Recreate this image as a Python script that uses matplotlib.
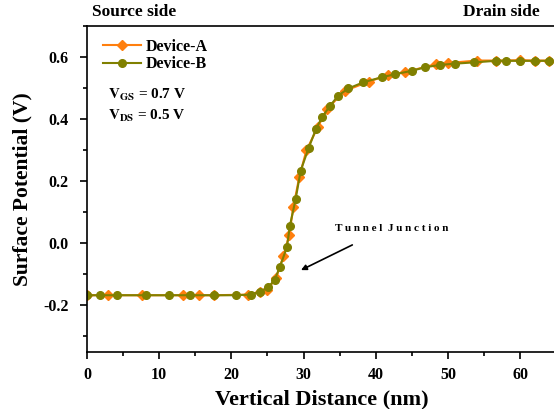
import matplotlib
matplotlib.use("Agg")
import matplotlib.pyplot as plt
from matplotlib.ticker import MultipleLocator

plt.rcParams['font.family'] = ['Liberation Serif', 'DejaVu Serif']
plt.rcParams['font.weight'] = 'bold'
plt.rcParams['mathtext.fontset'] = 'stix'

# Device-A (orange diamonds)
xa = [0, 2.9, 7.6, 13.3, 15.5, 17.6, 22.3, 24.0, 25.0, 26.2, 27.2, 28.0, 28.6,
      29.4, 30.4, 32.0, 33.3, 35.7, 39.0, 41.7, 44.0, 48.4, 50.0, 54.0, 56.6,
      60.0, 62.0, 64.0]
ya = [-0.168, -0.168, -0.168, -0.168, -0.168, -0.168, -0.166, -0.158, -0.150,
      -0.112, -0.043, 0.025, 0.117, 0.212, 0.299, 0.375, 0.433, 0.490, 0.520,
      0.541, 0.550, 0.577, 0.580, 0.588, 0.588, 0.589, 0.588, 0.588]

# Device-B (olive circles)
xb = [0, 1.8, 4.2, 8.2, 11.3, 14.3, 17.6, 20.6, 22.7, 24.0, 25.1, 26.0, 26.7,
      27.7, 28.1, 28.9, 29.6, 30.7, 31.7, 32.6, 33.7, 34.8, 36.2, 38.3, 40.8,
      42.7, 45.0, 46.8, 48.9, 51.0, 53.6, 56.6, 58.0, 60.0, 62.0, 64.0]
yb = [-0.168, -0.168, -0.168, -0.168, -0.168, -0.168, -0.168, -0.168, -0.166,
      -0.156, -0.143, -0.118, -0.078, -0.013, 0.055, 0.141, 0.233, 0.306,
      0.366, 0.407, 0.443, 0.475, 0.498, 0.518, 0.534, 0.544, 0.555, 0.566,
      0.574, 0.578, 0.582, 0.587, 0.587, 0.587, 0.587, 0.587]

fig = plt.figure(figsize=(5.54, 4.09), dpi=100)
ax = fig.add_axes([0.157, 0.140, 0.847, 0.797])

ax.plot(xa, ya, color='#ff7f0e', marker='D', markersize=5, linewidth=1.5,
        label='Device-A')
ax.plot(xb, yb, color='#808000', marker='o', markersize=5.5, linewidth=1.5,
        label='Device-B')

ax.set_xlim(0, 65)
ax.set_ylim(-0.35, 0.7)
ax.xaxis.set_major_locator(MultipleLocator(10))
ax.xaxis.set_minor_locator(MultipleLocator(5))
ax.yaxis.set_major_locator(MultipleLocator(0.2))
ax.yaxis.set_minor_locator(MultipleLocator(0.1))
ax.tick_params(which='both', direction='out', labelsize=11.5, width=1.2)
ax.tick_params(which='major', length=5)
ax.tick_params(which='minor', length=3)
ax.tick_params(axis='x', pad=6)
ax.tick_params(axis='y', pad=8)
ax.yaxis.set_major_formatter(plt.FuncFormatter(lambda v, p: f"{v:.1f}"))
ax.spines['right'].set_visible(False)
for s in ['left', 'bottom', 'top']:
    ax.spines[s].set_linewidth(1.2)

ax.set_xlabel('Vertical Distance (nm)', fontsize=16, fontweight='bold', labelpad=5)
ax.set_ylabel('Surface Potential (V)', fontsize=15.5, fontweight='bold', labelpad=8)

ax.legend(loc='upper left', frameon=False, fontsize=11.5, handlelength=2.4,
          borderaxespad=0.3, labelspacing=0.1, handletextpad=0.3,
          bbox_to_anchor=(0.01, 0.995))

ax.text(0.045, 0.775, r'$\mathbf{V}_{\mathbf{GS}}$ = 0.7 V', transform=ax.transAxes,
        fontsize=11, fontweight='bold')
ax.text(0.045, 0.712, r'$\mathbf{V}_{\mathbf{DS}}$ = 0.5 V', transform=ax.transAxes,
        fontsize=11, fontweight='bold')

fig.text(0.166, 0.962, 'Source side', fontsize=12.5, fontweight='bold')
fig.text(0.835, 0.962, 'Drain side', fontsize=12.5, fontweight='bold')

ax.annotate('', xy=(29.3, -0.091), xytext=(37.1, -0.002),
            arrowprops=dict(arrowstyle='-|>', color='black', lw=1.2,
                            mutation_scale=8))
ax.text(34.3, 0.04, 'T u n n e l  J u n c t i o n', fontsize=8, fontweight='bold')

fig.savefig('out.png', dpi=100)
